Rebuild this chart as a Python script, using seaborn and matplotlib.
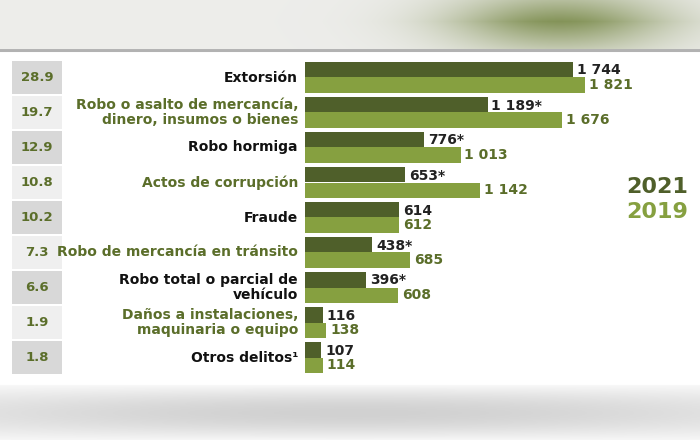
import numpy as np
import pandas as pd
import matplotlib
matplotlib.use("Agg")
import matplotlib.pyplot as plt
import seaborn as sns
from matplotlib.transforms import blended_transform_factory
from matplotlib.patches import Rectangle

categories = ["Extorsión", "Robo o asalto de mercancía,\ndinero, insumos o bienes", "Robo hormiga",
              "Actos de corrupción", "Fraude", "Robo de mercancía en tránsito",
              "Robo total o parcial de\nvehículo", "Daños a instalaciones,\nmaquinaria o equipo", "Otros delitos¹"]
pct = ["28.9", "19.7", "12.9", "10.8", "10.2", "7.3", "6.6", "1.9", "1.8"]
v2021 = [1744, 1189, 776, 653, 614, 438, 396, 116, 107]
v2019 = [1821, 1676, 1013, 1142, 612, 685, 608, 138, 114]
lab2021 = ["1 744", "1 189*", "776*", "653*", "614", "438*", "396*", "116", "107"]
lab2019 = ["1 821", "1 676", "1 013", "1 142", "612", "685", "608", "138", "114"]
label_dark = [True, False, True, False, True, False, True, False, True]

DARK = "#4f5f2a"
LIGHT = "#86a040"
TXTG = "#5b6e2a"

sns.set_theme(style="white")
fig = plt.figure(figsize=(7, 4.4), dpi=100)

# background
bg = fig.add_axes([0, 0, 1, 1], zorder=-10)
bg.set_axis_off()
H, W = 440, 700
img = np.ones((H, W, 3))
xs = np.linspace(0, 1, W)
for y in range(0, 52):
    g = np.exp(-((xs - 0.8) / 0.16) ** 2) * (1 - abs(y - 22) / 45)
    base = np.array([0.93, 0.93, 0.92])
    green = np.array([0.52, 0.58, 0.35])
    img[y] = base * (1 - g[:, None]) + green * g[:, None]
img[50:53] = 0.7
for y in range(385, 440):
    t = (y - 385) / 55
    img[y] = 0.97 - 0.15 * np.sin(np.pi * t) * (0.6 + 0.4 * np.sin(np.pi * xs))[:, None]
bg.imshow(img, extent=[0, 1, 0, 1], aspect="auto")

ax = fig.add_axes([305 / 700, 1 - 375 / 440, 384 / 700, 315 / 440])
rows = []
for c, a, b in zip(categories, v2021, v2019):
    rows.append((c, "2021", a))
    rows.append((c, "2019", b))
df = pd.DataFrame(rows, columns=["cat", "year", "val"])
sns.barplot(data=df, y="cat", x="val", hue="year", order=categories, hue_order=["2021", "2019"],
            palette=[DARK, LIGHT], orient="h", width=0.88, legend=False, ax=ax, saturation=1,
            linewidth=0)
ax.set_xlim(0, 2500)
ax.set_ylim(8.5, -0.5)
ax.set_axis_off()
ax.patch.set_alpha(0)
for i in range(len(categories)):
    ax.text(v2021[i] + 25, i - 0.2, lab2021[i], va="center", ha="left", fontsize=10,
            fontweight="bold", color="#222222")
    ax.text(v2019[i] + 25, i + 0.22, lab2019[i], va="center", ha="left", fontsize=10,
            fontweight="bold", color=TXTG)

tr = blended_transform_factory(fig.transFigure, ax.transData)
for i in range(len(categories)):
    col = "#d8d8d8" if i % 2 == 0 else "#efefef"
    fig.patches.append(Rectangle((12 / 700, i - 0.47), 50 / 700, 0.94, transform=tr,
                                 facecolor=col, edgecolor="none"))
    fig.text(37 / 700, i, pct[i], transform=tr, ha="center", va="center", fontsize=9.5,
             fontweight="bold", color=TXTG)
    fig.text(298 / 700, i, categories[i], transform=tr, ha="right", va="center",
             fontsize=10, fontweight="bold", multialignment="right", linespacing=1.1,
             color="#111111" if label_dark[i] else TXTG)

fig.text(657 / 700, 1 - 187 / 440, "2021", ha="center", va="center", fontsize=16,
         fontweight="bold", color=DARK)
fig.text(657 / 700, 1 - 212 / 440, "2019", ha="center", va="center", fontsize=16,
         fontweight="bold", color=LIGHT)

fig.savefig("out.png", dpi=100)
